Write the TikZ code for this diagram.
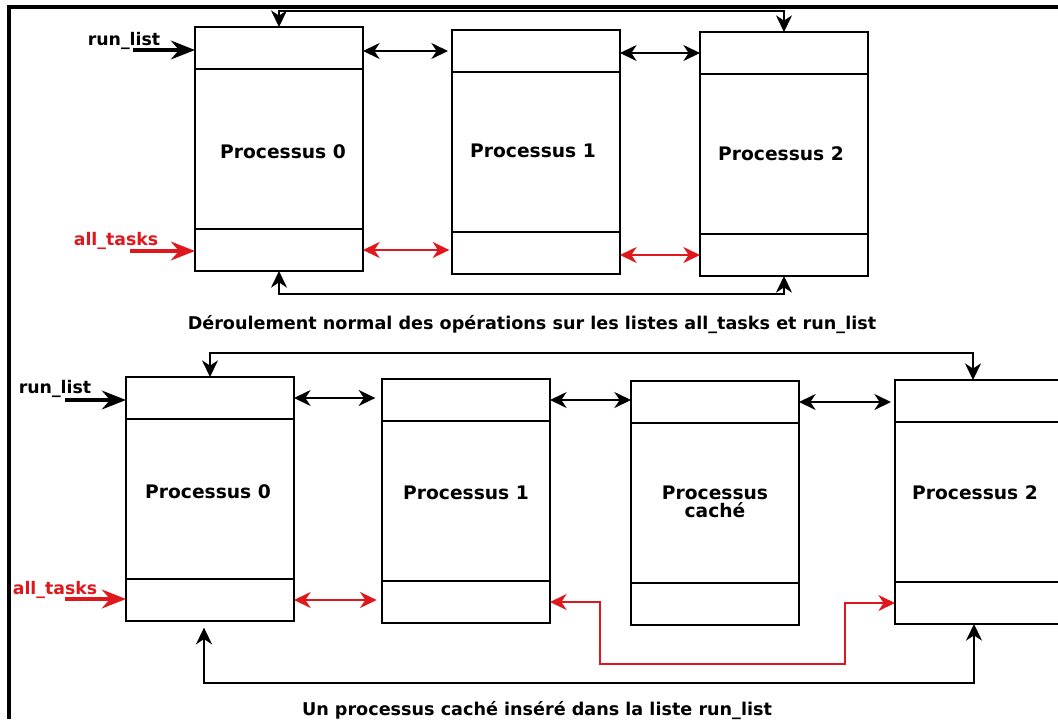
\documentclass[tikz,border=0pt]{standalone}
\usepackage{fontspec}
\setmainfont{DejaVu Sans}
\usetikzlibrary{arrows.meta,calc}
\definecolor{lred}{RGB}{222,24,28}
\tikzset{
  cell/.style={draw, line width=1.8pt, rectangle, minimum width=126pt, inner sep=0pt, outer sep=0pt},
  ptext/.style={font=\bfseries\fontsize{14}{13.5}\selectfont, align=center, inner sep=0pt},
  lbl/.style={font=\bfseries\fontsize{13}{15}\selectfont, inner sep=0pt},
  captext/.style={font=\bfseries\fontsize{13.2}{15}\selectfont, inner sep=0pt},
  tipS/.tip={Stealth[length=12.5pt,width=12pt,inset=4pt]},
  tipB/.tip={Stealth[length=18pt,width=14pt,inset=6pt]},
  link/.style={line width=1.6pt, tipS-tipS},
  fat/.style={line width=3.2pt, -tipB},
}
\newcommand\procbox[3]{%
  \node[cell, minimum height=31.5pt, anchor=north west] (#1t) at (#2,#3) {};
  \node[cell, minimum height=120pt, anchor=north] (#1m) at (#1t.south) {};
  \node[cell, minimum height=31.5pt, anchor=north] (#1b) at (#1m.south) {};
}
\begin{document}
\begin{tikzpicture}[x=0.75pt, y=-0.75pt]
\useasboundingbox (0,0) rectangle (1058,719);
\clip (0,0) rectangle (1058,719);
\fill[white] (0,0) rectangle (1058,719);

% frame
\draw[line width=3pt] (1058,7) -- (9,7) -- (9,719);

% ---------- top diagram ----------
\procbox{a0}{195}{27}
\procbox{a1}{452}{30}
\procbox{a2}{700}{32}
\node[ptext] (a0x) at (283,152) {Processus 0};
\node[ptext] (a1x) at (533,151) {Processus 1};
\node[ptext] (a2x) at (781,154) {Processus 2};

\node[lbl, anchor=base] (rlA) at (124,45) {run\_list};
\node[lbl, anchor=base, text=lred] (atA) at (116,245) {all\_tasks};
\coordinate (rlAs) at (133,50);
\coordinate (atAs) at (130,251);
\draw[fat] (rlAs) -- (rlAs -| a0t.west);
\draw[fat, lred] (atAs) -- (atAs -| a0b.west);

\draw[link, shorten >=3pt] (a0t.east |- a1t.west) -- (a1t.west);
\draw[link] (a1t.east |- a2t.west) -- (a2t.west);
\draw[link, lred, shorten >=2pt] (a0b.east) -- (a0b.east -| a1b.west);
\draw[link, lred] (a1b.east |- a2b.west) -- (a2b.west);

\draw[link] (a0t.north) -- ++(0,-16) -| (a2t.north);
\draw[link] (a0b.south) -- ++(0,23) -| (a2b.south);

\node[captext, anchor=base] (capA) at (532,329) {Déroulement normal des opérations sur les listes all\_tasks et run\_list};

% ---------- bottom diagram ----------
\procbox{b0}{126}{377}
\procbox{b1}{382}{379}
\procbox{b2}{631}{381}
\procbox{b3}{895}{380}
\node[ptext] (b0x) at (208,492) {Processus 0};
\node[ptext] (b1x) at (466,493) {Processus 1};
\node[ptext] (b2x) at (715,502) {Processus\\caché};
\node[ptext] (b3x) at (975,493) {Processus 2};

\node[lbl, anchor=base] (rlB) at (55,393) {run\_list};
\node[lbl, anchor=base, text=lred] (atB) at (55,594) {all\_tasks};
\coordinate (rlBs) at (65,400);
\coordinate (atBs) at (65,599);
\draw[fat] (rlBs) -- (rlBs -| b0t.west);
\draw[fat, lred] (atBs) -- (atBs -| b0b.west);

\draw[link, shorten >=5pt] (b0t.east) -- (b0t.east -| b1t.west);
\draw[link] (b1t.east) -- (b1t.east -| b2t.west);
\draw[link, shorten >=3pt] (b2t.east) -- (b2t.east -| b3t.west);
\draw[link, lred, shorten >=4pt] (b0b.east) -- (b0b.east -| b1b.west);

\coordinate (r1) at (600,664);
\coordinate (r2) at (845,664);
\draw[link, lred, line width=1.3pt] (b1b.east) -| (r1) -- (r2) |- (b3b.west);

\draw[link] (b0t.north) -- ++(0,-24) -| ([xshift=-4.5pt]b3t.north);
\draw[link, shorten <=5pt] ([xshift=-4.5pt]b0b.south) -- ++(0,62) -| ([xshift=-3.75pt]b3b.south);

\node[captext, anchor=base] (capB) at (537,715) {Un processus caché inséré dans la liste run\_list};
\end{tikzpicture}
\end{document}
